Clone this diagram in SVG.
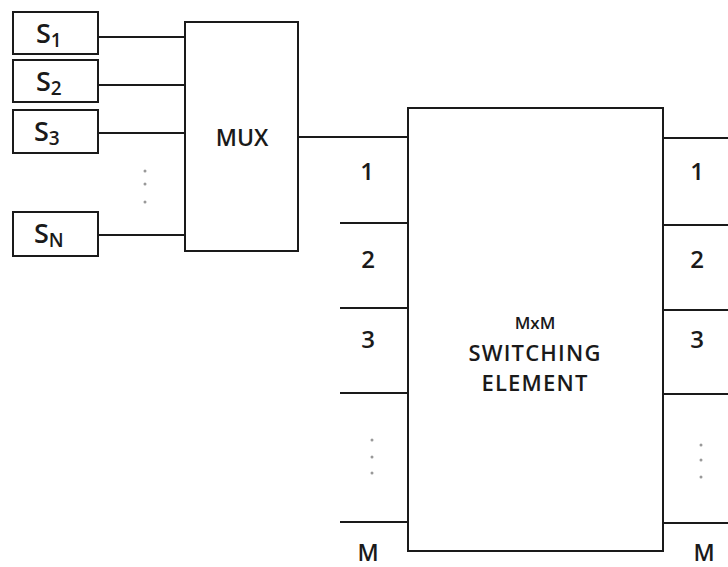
<svg xmlns="http://www.w3.org/2000/svg" width="728" height="567" viewBox="0 0 728 567">
<style>
.box{fill:#fff;stroke:#1a1a1a;stroke-width:2}
.ln{stroke:#1a1a1a;stroke-width:2;fill:none}
.t{font-family:"Open Sans","Noto Sans",sans-serif;fill:#1a1a1a;font-weight:600}
.dot{fill:#999}
</style>
<rect width="728" height="567" fill="#fff"/>
<g id="connectors">
<line class="ln" x1="98" y1="37" x2="185" y2="37"/>
<line class="ln" x1="98" y1="85" x2="185" y2="85"/>
<line class="ln" x1="98" y1="133" x2="185" y2="133"/>
<line class="ln" x1="98" y1="235" x2="185" y2="235"/>
<line class="ln" x1="298" y1="137" x2="408" y2="137"/>
<line class="ln" x1="340" y1="223" x2="408" y2="223"/>
<line class="ln" x1="340" y1="308" x2="408" y2="308"/>
<line class="ln" x1="340" y1="393" x2="408" y2="393"/>
<line class="ln" x1="340" y1="522" x2="408" y2="522"/>
<line class="ln" x1="663" y1="138" x2="728" y2="138"/>
<line class="ln" x1="663" y1="225" x2="728" y2="225"/>
<line class="ln" x1="663" y1="310" x2="728" y2="310"/>
<line class="ln" x1="663" y1="394" x2="728" y2="394"/>
<line class="ln" x1="663" y1="523" x2="728" y2="523"/>
</g>
<g id="s1"><rect class="box" x="13" y="12" width="85" height="42"/><text class="t" x="36" y="43" font-size="27">S<tspan font-size="19" dy="4">1</tspan></text></g>
<g id="s2"><rect class="box" x="13" y="60" width="85" height="42"/><text class="t" x="36" y="91" font-size="27">S<tspan font-size="19" dy="4">2</tspan></text></g>
<g id="s3"><rect class="box" x="13" y="110" width="85" height="43"/><text class="t" x="34" y="141" font-size="27">S<tspan font-size="19" dy="4">3</tspan></text></g>
<g id="sn"><rect class="box" x="13" y="212" width="85" height="44"/><text class="t" x="34" y="243" font-size="27">S<tspan font-size="19" dy="4">N</tspan></text></g>
<g id="dots1"><circle class="dot" cx="145" cy="171" r="1.5"/><circle class="dot" cx="145" cy="184" r="1.5"/><circle class="dot" cx="145" cy="202" r="1.5"/></g>
<g id="mux"><rect class="box" x="185" y="22" width="113" height="229"/><text class="t" x="242" y="146" font-size="23" font-weight="500" text-anchor="middle">MUX</text></g>
<g id="switch"><rect class="box" x="408" y="108" width="255" height="443"/>
<text class="t" x="535" y="329" font-size="17" font-weight="500" text-anchor="middle">MxM</text>
<text class="t" x="535" y="361" font-size="22" font-weight="500" letter-spacing="1.2" text-anchor="middle">SWITCHING</text>
<text class="t" x="535" y="391" font-size="22" font-weight="500" letter-spacing="1.2" text-anchor="middle">ELEMENT</text></g>
<g id="labels-left">
<text class="t" x="367" y="180" font-size="24" text-anchor="middle">1</text>
<text class="t" x="368" y="268" font-size="24" text-anchor="middle">2</text>
<text class="t" x="368" y="348" font-size="24" text-anchor="middle">3</text>
<text class="t" x="368" y="561" font-size="23" font-weight="500" text-anchor="middle">M</text>
<circle class="dot" cx="372" cy="440" r="1.5"/><circle class="dot" cx="372" cy="457" r="1.5"/><circle class="dot" cx="372" cy="473" r="1.5"/>
</g>
<g id="labels-right">
<text class="t" x="697" y="180" font-size="24" text-anchor="middle">1</text>
<text class="t" x="697" y="268" font-size="24" text-anchor="middle">2</text>
<text class="t" x="697" y="348" font-size="24" text-anchor="middle">3</text>
<text class="t" x="704" y="561" font-size="23" font-weight="500" text-anchor="middle">M</text>
<circle class="dot" cx="701" cy="445" r="1.5"/><circle class="dot" cx="701" cy="460" r="1.5"/><circle class="dot" cx="701" cy="477" r="1.5"/>
</g>
</svg>
